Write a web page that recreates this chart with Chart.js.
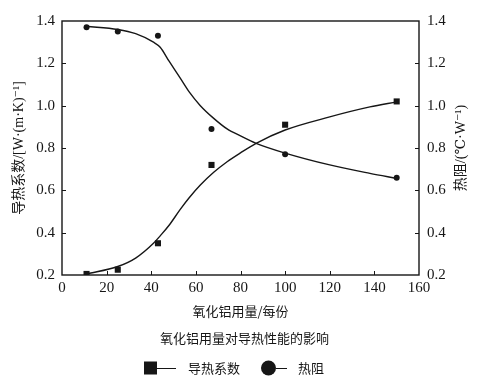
<!DOCTYPE html>
<html><head><meta charset="utf-8">
<script src="https://cdn.jsdelivr.net/npm/chart.js@4"></script>
<style>html,body{margin:0;padding:0;background:#fff}#wrap{width:489px;height:382px;position:relative}</style>
</head><body><div id="wrap"><canvas id="c" width="489" height="382"></canvas></div>
<script>
// ---- data ----
const amountX = [11, 25, 43, 67, 100, 150];
const conductivity = [0.205, 0.225, 0.35, 0.72, 0.91, 1.02];
const resistance = [1.37, 1.35, 1.33, 0.89, 0.77, 0.66];
const fitX = [11, 25, 33, 41, 44, 48, 53, 57, 62, 68, 74, 80, 87, 100, 120, 138, 150];
const conductivityFit = [0.205, 0.24, 0.28, 0.35, 0.385, 0.435, 0.51, 0.565, 0.625, 0.685, 0.735, 0.777, 0.822, 0.885, 0.947, 0.994, 1.018];
const resistanceFit = [1.375, 1.36, 1.34, 1.30, 1.276, 1.21, 1.13, 1.065, 1.0, 0.94, 0.89, 0.857, 0.822, 0.776, 0.72, 0.68, 0.656];
const xTicks = [0, 20, 40, 60, 80, 100, 120, 140, 160];
const yTicks = [0.2, 0.4, 0.6, 0.8, 1.0, 1.2, 1.4];
const seriesNames = ['导热系数', '热阻'];
const xTitle = '氧化铝用量/每份';
const yTitle = '导热系数/[W·(m·K)⁻¹]';
const y2Title = '热阻/(℃·W⁻¹)';
const caption = '氧化铝用量对导热性能的影响';

// ---- styles ----
const ink = '#161616';
const serifFam = "'Liberation Serif','DejaVu Serif','Noto Sans CJK SC',serif";
const cjkFam = "'Noto Sans CJK SC','Liberation Serif',sans-serif";
const toXY = (xs, ys) => xs.map((x, i) => ({x: x, y: ys[i]}));

const framePlugin = {
  id: 'frame',
  afterDraw(chart) {
    const {ctx, chartArea: a, scales} = chart;
    ctx.save();
    ctx.strokeStyle = ink; ctx.fillStyle = ink;
    ctx.lineWidth = 1.4;
    ctx.strokeRect(a.left, a.top, a.right - a.left, a.bottom - a.top);
    ctx.lineWidth = 1;
    const tl = 4;
    ctx.beginPath();
    scales.x.ticks.forEach(t => {
      if (t.value <= scales.x.min || t.value >= scales.x.max) return;
      const px = Math.round(scales.x.getPixelForValue(t.value)) + 0.5;
      ctx.moveTo(px, a.bottom); ctx.lineTo(px, a.bottom - tl);
    });
    scales.y.ticks.forEach(t => {
      if (t.value <= scales.y.min || t.value >= scales.y.max) return;
      const py = Math.round(scales.y.getPixelForValue(t.value)) + 0.5;
      ctx.moveTo(a.left, py); ctx.lineTo(a.left + tl, py);
    });
    scales.y2.ticks.forEach(t => {
      if (t.value <= scales.y2.min || t.value >= scales.y2.max) return;
      const py = Math.round(scales.y2.getPixelForValue(t.value)) + 0.5;
      ctx.moveTo(a.right, py); ctx.lineTo(a.right - tl, py);
    });
    ctx.stroke();

    // right axis title, reading bottom-to-top
    ctx.save();
    ctx.translate(461, (a.top + a.bottom) / 2);
    ctx.rotate(-Math.PI / 2);
    ctx.font = "14px " + serifFam;
    ctx.textAlign = 'center'; ctx.textBaseline = 'middle';
    ctx.fillText(y2Title, 0, 0);
    ctx.restore();

    // legend
    const ly = 368;
    ctx.font = "13px " + cjkFam;
    ctx.textAlign = 'left'; ctx.textBaseline = 'middle';
    ctx.fillRect(144, ly - 6.5, 13, 13);
    ctx.beginPath(); ctx.moveTo(157, ly + 0.5); ctx.lineTo(176, ly + 0.5); ctx.stroke();
    ctx.fillText(chart.data.datasets[0].label, 188, ly);
    ctx.beginPath(); ctx.arc(268.5, ly, 7.5, 0, Math.PI * 2); ctx.fill();
    ctx.beginPath(); ctx.moveTo(276, ly + 0.5); ctx.lineTo(287, ly + 0.5); ctx.stroke();
    ctx.fillText(chart.data.datasets[1].label, 298, ly);
    ctx.restore();
  }
};

new Chart(document.getElementById('c'), {
  type: 'scatter',
  data: {
    datasets: [
      {label: seriesNames[0], data: toXY(amountX, conductivity), yAxisID: 'y',
       pointStyle: 'rect', pointRadius: 4.3, backgroundColor: ink, borderWidth: 0, showLine: false},
      {label: seriesNames[1], data: toXY(amountX, resistance), yAxisID: 'y2',
       pointStyle: 'circle', pointRadius: 3, backgroundColor: ink, borderWidth: 0, showLine: false},
      {label: seriesNames[0] + '拟合', data: toXY(fitX, conductivityFit), yAxisID: 'y',
       showLine: true, pointRadius: 0, borderColor: ink, borderWidth: 1.4, cubicInterpolationMode: 'monotone'},
      {label: seriesNames[1] + '拟合', data: toXY(fitX, resistanceFit), yAxisID: 'y2',
       showLine: true, pointRadius: 0, borderColor: ink, borderWidth: 1.4, cubicInterpolationMode: 'monotone'}
    ]
  },
  options: {
    responsive: false, animation: false, devicePixelRatio: 1,
    layout: {padding: {top: 21, left: 0, right: 0, bottom: 36.4}},
    plugins: {
      legend: {display: false},
      tooltip: {enabled: false},
      title: {display: true, position: 'bottom', text: caption, color: ink,
              font: {family: cjkFam, size: 13, weight: 'normal'}, padding: {top: 7, bottom: 0}}
    },
    scales: {
      x: {type: 'linear', position: 'bottom', min: 0, max: 160,
          afterBuildTicks: s => { s.ticks = xTicks.map(v => ({value: v})); },
          afterFit: s => { s.height = 48; },
          grid: {display: false, drawTicks: false}, border: {display: false},
          ticks: {color: ink, font: {family: serifFam, size: 15}, padding: 4, maxRotation: 0, autoSkip: false},
          title: {display: true, text: xTitle, color: ink, font: {family: cjkFam, size: 13}, padding: {top: 0, bottom: 4}}},
      y: {type: 'linear', position: 'left', min: 0.2, max: 1.4,
          afterBuildTicks: s => { s.ticks = yTicks.map(v => ({value: v})); },
          afterFit: s => { s.width = 62; },
          grid: {display: false, drawTicks: false}, border: {display: false},
          ticks: {color: ink, font: {family: serifFam, size: 15}, padding: 7, callback: v => Number(v).toFixed(1)},
          title: {display: true, text: yTitle, color: ink, font: {family: serifFam, size: 14}, padding: {top: 11, bottom: 0}}},
      y2: {type: 'linear', position: 'right', min: 0.2, max: 1.4,
          afterBuildTicks: s => { s.ticks = yTicks.map(v => ({value: v})); },
          afterFit: s => { s.width = 70; },
          grid: {display: false, drawTicks: false}, border: {display: false},
          ticks: {color: ink, font: {family: serifFam, size: 15}, padding: 8, callback: v => Number(v).toFixed(1)},
          title: {display: false}}
    }
  },
  plugins: [framePlugin]
});
</script></body></html>
